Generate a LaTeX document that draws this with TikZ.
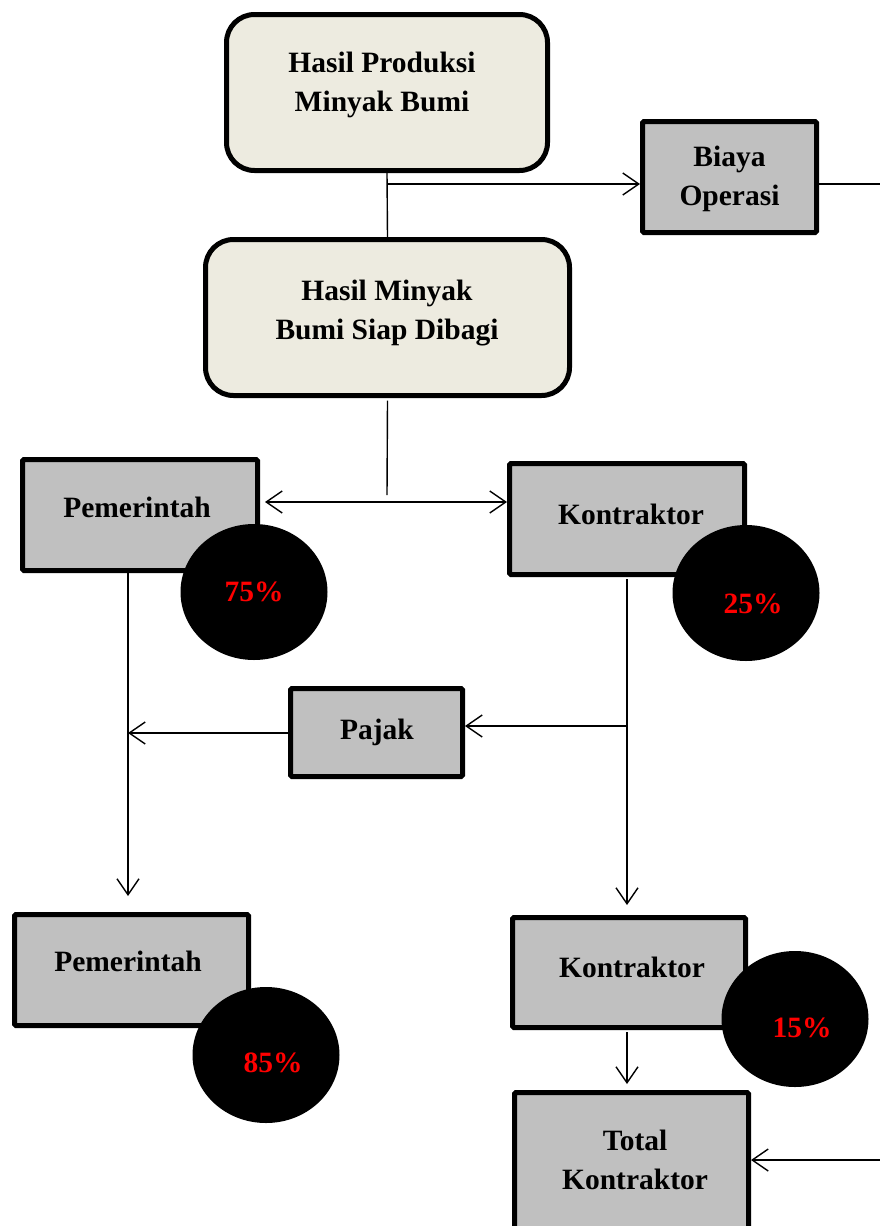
\documentclass[tikz,border=0pt]{standalone}
\usepackage{fontspec}
\setmainfont{Liberation Serif}
\usetikzlibrary{arrows.meta,shapes.geometric,calc}
\definecolor{beige}{HTML}{EDEBE0}
\definecolor{boxgray}{HTML}{C0C0C0}
\definecolor{pctred}{HTML}{FF0000}
\begin{document}
\begin{tikzpicture}[x=1pt,y=-1pt,
  txt/.style={font=\bfseries\fontsize{29.5}{39}\selectfont, align=center, inner sep=0pt},
  rbox/.style={draw=black, line width=5pt, fill=beige, rounded corners=28pt, inner sep=0pt},
  gbox/.style={draw=black, line width=5pt, fill=boxgray, inner sep=0pt, rounded corners=1.5pt},
  pct/.style={ellipse, fill=black, minimum width=147pt, minimum height=136pt, inner sep=0pt,
     text=pctred, font=\bfseries\fontsize{29.5}{34}\selectfont},
  conn/.style={line width=1.4pt, draw=black},
  arr/.style={conn, -{Straight Barb[length=16pt, width=22pt, line width=1.4pt]}},
  darr/.style={conn, {Straight Barb[length=16pt, width=22pt, line width=1.4pt]}-{Straight Barb[length=16pt, width=22pt, line width=1.4pt]}}
]
\useasboundingbox (0,0) rectangle (880,1226);

% boxes
\node[rbox, minimum width=321pt, minimum height=156pt] (prod) at (387,92.5) {};
\node[txt] (prodt) at (382,85) {Hasil Produksi\\Minyak Bumi};

\node[gbox, minimum width=174pt, minimum height=111pt] (biaya) at (729.5,177) {};
\node[txt] (biayat) at (729.5,179) {Biaya\\Operasi};

\node[rbox, minimum width=364pt, minimum height=156pt] (siap) at (387.5,317.5) {};
\node[txt] (siapt) at (387,313) {Hasil Minyak\\Bumi Siap Dibagi};

\node[gbox, minimum width=235pt, minimum height=111pt] (pem1) at (140,515) {};
\node[txt] (pem1t) at (137,507) {Pemerintah};

\node[gbox, minimum width=235pt, minimum height=111pt] (kon1) at (627,519) {};
\node[txt] (kon1t) at (631,514) {Kontraktor};

\node[gbox, minimum width=172pt, minimum height=88pt] (pajak) at (376.5,732.5) {};
\node[txt] (pajakt) at (377,732) {Pajak};

\node[gbox, minimum width=234pt, minimum height=111pt] (pem2) at (131.5,970) {};
\node[txt] (pem2t) at (128,961) {Pemerintah};

\node[gbox, minimum width=233pt, minimum height=110pt] (kon2) at (629,972.5) {};
\node[txt] (kon2t) at (632,967) {Kontraktor};

\node[gbox, minimum width=234pt, minimum height=150pt] (total) at (631.5,1167.5) {};
\node[txt] (totalt) at (635,1160) {Total\\Kontraktor};

% percentage circles
\node[pct] (p75) at (254,592) {75\%};
\node[pct] (p25) at (746,593) {\hspace{14pt}\raisebox{-20pt}[0pt][0pt]{25\%}};
\node[pct] (p85) at (266,1055) {\hspace{14pt}\raisebox{-17pt}[0pt][0pt]{85\%}};
\node[pct] (p15) at (795,1019) {\hspace{14pt}\raisebox{-18pt}[0pt][0pt]{15\%}};

% connectors
\coordinate (j1) at (387,184);
\coordinate (eR1) at (880,184);
\coordinate (eR2) at (880,1160);
\coordinate (j2) at (387,495);
\coordinate (h2) at (387,502);
\coordinate (j3) at (627,726);
\coordinate (j4) at (128,733);

\draw[conn] (prod.south) -- (siap.north);
\draw[arr] (j1) -- (biaya.west |- j1);
\draw[conn] (biaya.east |- eR1) -- (eR1);

\draw[conn] ($(siap.south)+(0,2.5)$) -- (j2);
\draw[darr] ($(pem1.east |- h2)+(5,0)$) -- (kon1.west |- h2);

\draw[arr] (pem1.south -| j4) -- ($(pem2.north -| j4)+(0,-16)$);
\draw[arr] (pajak.west |- j4) -- (j4);

\draw[arr] ($(kon1.south -| j3)+(0,2)$) -- ($(kon2.north -| j3)+(0,-10)$);
\draw[arr] (j3) -- (pajak.east |- j3);

\draw[arr] ($(kon2.south -| j3)+(0,2)$) -- ($(total.north -| j3)+(0,-6)$);
\draw[arr] (eR2) -- (total.east |- eR2);
\end{tikzpicture}
\end{document}
